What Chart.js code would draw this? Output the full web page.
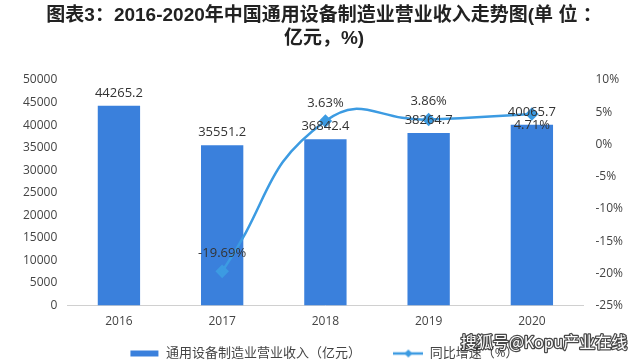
<!DOCTYPE html>
<html><head><meta charset="utf-8">
<script src="https://cdn.jsdelivr.net/npm/chart.js@4/dist/chart.umd.min.js"></script>
<style>html,body{margin:0;padding:0;background:#fff;}#wrap{width:640px;height:361px;position:relative;}</style>
</head><body><div id="wrap"><canvas id="c" width="640" height="361"></canvas></div>
<script>
const categories = ['2016','2017','2018','2019','2020'];
const revenue = [44265.2, 35551.2, 36842.4, 38264.7, 40065.7];
const growth = [null, -19.69, 3.63, 3.86, 4.71];
const growthLabels = [null, '-19.69%', '3.63%', '3.86%', '4.71%'];
const titleLines = ['图表3：2016-2020年中国通用设备制造业营业收入走势图(单 位 ：', '亿元，%)'];
const leftTicks = [0,5000,10000,15000,20000,25000,30000,35000,40000,45000,50000];
const rightTicks = [-25,-20,-15,-10,-5,0,5,10];
const seriesNames = ['通用设备制造业营业收入（亿元）', '同比增速（%）'];
const watermark = '搜狐号@Kopu产业在线';

const BAR = '#3a80dc', LINE = '#3c9be2';
const FONT = "'Open Sans','Noto Sans CJK SC',sans-serif";

function mkIcon(kind){
  const cv = document.createElement('canvas'); cv.width = 30; cv.height = 10;
  const x = cv.getContext('2d');
  if(kind==='bar'){ x.fillStyle = BAR; x.fillRect(1,2,28,6); }
  else { x.strokeStyle = LINE; x.lineWidth = 2.5; x.beginPath(); x.moveTo(0,5); x.lineTo(30,5); x.stroke();
    x.fillStyle = LINE; x.beginPath(); x.moveTo(15,1); x.lineTo(19,5); x.lineTo(15,9); x.lineTo(11,5); x.closePath(); x.fill(); }
  return cv;
}
const icons = [mkIcon('bar'), mkIcon('line')];

const labelPlugin = {
  id:'vlabels',
  afterDatasetsDraw(chart){
    const ctx = chart.ctx; ctx.save();
    ctx.font = "13px " + FONT; ctx.fillStyle = '#333'; ctx.textAlign='center'; ctx.textBaseline='middle';
    chart.getDatasetMeta(0).data.forEach((el,i)=>{ ctx.fillText(revenue[i].toFixed(1), el.x, el.y-13); });
    chart.getDatasetMeta(1).data.forEach((el,i)=>{ if(growth[i]===null) return;
      const dy = (i===4) ? 11 : -18;
      ctx.fillText(growthLabels[i], el.x, el.y+dy); });
    ctx.restore();
  },
  afterDraw(chart){
    const ctx = chart.ctx; ctx.save();
    ctx.font = "16px 'Noto Sans CJK SC',sans-serif"; ctx.textAlign='center'; ctx.textBaseline='middle';
    ctx.lineWidth = 2.5; ctx.strokeStyle = 'rgba(40,40,40,0.85)'; ctx.lineJoin='round';
    ctx.strokeText(watermark, 544, 342); ctx.fillStyle = '#fff'; ctx.fillText(watermark, 544, 342);
    ctx.restore();
  }
};

new Chart(document.getElementById('c'), {
  data:{
    labels: categories,
    datasets:[
      {type:'bar', label: seriesNames[0], data: revenue, backgroundColor: BAR, yAxisID:'y', order:2,
       barPercentage:0.41, categoryPercentage:1.0},
      {type:'line', label: seriesNames[1], data: growth, borderColor: LINE, backgroundColor: LINE, yAxisID:'y1', order:1,
       borderWidth:2.5, tension:0.5, pointStyle:'rectRot', pointRadius:5, pointBackgroundColor: LINE, pointBorderColor: LINE}
    ]
  },
  options:{
    responsive:false, animation:false,
    layout:{padding:{left:13, right:5, top:0, bottom:-9}},
    plugins:{
      title:{display:true, text:titleLines, color:'#222', font:{size:19, weight:'bold', family:"'Liberation Sans','Noto Sans CJK SC',sans-serif", lineHeight:1.21}, padding:{top:4,bottom:30}},
      legend:{position:'bottom', labels:{usePointStyle:true, pointStyleWidth:30, boxHeight:10, padding:2, color:'#444', font:{size:13, family:FONT},
        generateLabels(chart){ return seriesNames.map((n,i)=>({text: i===0 ? n + '         ' : n, pointStyle:icons[i], fillStyle:'transparent', strokeStyle:'transparent', lineWidth:0, datasetIndex:i, fontColor:'#444'})); }}},
      tooltip:{enabled:false}
    },
    scales:{
      x:{grid:{display:false, drawTicks:false}, border:{display:true, color:'#d0d0d0'}, ticks:{color:'#444', font:{size:12, family:FONT}, padding:9},
         afterFit(ax){ ax.height += 7; }},
      y:{position:'left', min:0, max:50000, afterBuildTicks(ax){ ax.ticks = leftTicks.map(v=>({value:v})); },
         grid:{display:false, drawTicks:false}, border:{display:false}, ticks:{color:'#444', font:{size:12, family:FONT}, padding:10, callback:v=>String(v)}},
      y1:{position:'right', min:-25, max:10, afterBuildTicks(ax){ ax.ticks = rightTicks.map(v=>({value:v})); },
         grid:{display:false, drawTicks:false}, border:{display:false}, ticks:{color:'#444', font:{size:12, family:FONT}, padding:12, callback:v=>v+'%'}}
    }
  },
  plugins:[labelPlugin]
});
</script></body></html>
